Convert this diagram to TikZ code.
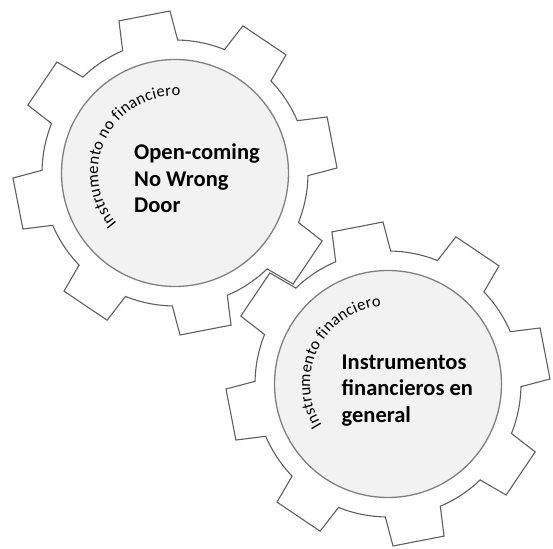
\documentclass[tikz,border=0pt]{standalone}
\usepackage{fontspec}
\setmainfont{Carlito}
\usetikzlibrary{decorations.text}
\definecolor{gearline}{RGB}{95,95,95}
\definecolor{ringline}{RGB}{128,128,128}
\definecolor{ringfill}{RGB}{242,242,242}
\newcommand{\arcfont}{\fontsize{16.5}{19}\selectfont}
\tikzset{
  gearbody/.style={draw=gearline, line width=1.1pt, fill=white, line join=miter},
  hubdisc/.style={draw=ringline, line width=1.3pt, fill=ringfill, circle, minimum size=227pt, inner sep=0pt},
  bigtext/.style={font=\bfseries\fontsize{22.5}{26.2}\selectfont, align=left, inner sep=0pt, anchor=north west, text=black},
  arclabel/.style={decorate, decoration={text along path, text align=fit to path, text={|\arcfont|#1}}},
}
\begin{document}
\begin{tikzpicture}[x=1pt,y=1pt]
\useasboundingbox (0,0) rectangle (553,548);
\coordinate (g1) at (175,375);
\coordinate (g2) at (388,164);
% gear 1
\begin{scope}[shift={(175,375)}]
  \draw[gearbody] (88.85:133)
    \foreach \k in {0,...,7}{
      -- ({101+45*\k-9.23}:162.1) -- ({101+45*\k+9.23}:162.1) -- ({101+45*\k+12.15}:133)
      arc[start angle={101+45*\k+12.15}, delta angle=20.7, radius=133]
    } -- cycle;
\end{scope}
\node[hubdisc] (hub1) at (g1) {};
\path[arclabel={Instrumento no financiero}] ([shift={(221:77)}]g1) arc[start angle=221, end angle=86, radius=77];
\node[bigtext] (t1) at (134,404) {Open-coming\\No Wrong\\Door};
% gear 2
\begin{scope}[shift={(388,164)}]
  \draw[gearbody] (88.85:133)
    \foreach \k in {0,...,7}{
      -- ({101+45*\k-9.23}:162.1) -- ({101+45*\k+9.23}:162.1) -- ({101+45*\k+12.15}:133)
      arc[start angle={101+45*\k+12.15}, delta angle=20.7, radius=133]
    } -- cycle;
\end{scope}
\node[hubdisc] (hub2) at (g2) {};
\path[arclabel={Instrumento financiero}] ([shift={(212:78)}]g2) arc[start angle=212, end angle=95, radius=78];
\node[bigtext] (t2) at (341.5,193) {Instrumentos\\financieros en\\general};
\end{tikzpicture}
\end{document}
